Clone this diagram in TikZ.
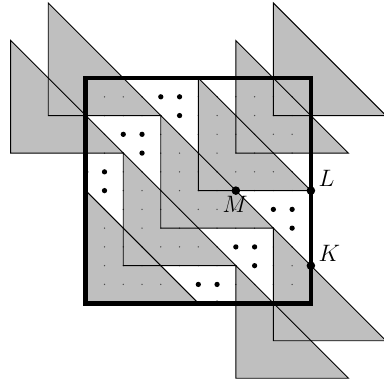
\documentclass[tikz,border=0pt]{standalone}
\usepackage{tikz}
\usetikzlibrary{positioning}

\begin{document}
\begin{tikzpicture}[
  x=0.4cm, y=0.4cm,
  shade/.style={fill=black!25},
  edge/.style={draw, line width=0.55pt, line join=miter},
  frame/.style={draw, line width=2.8pt, line join=miter},
  gridpt/.style={fill=black!70},
  freept/.style={fill=black},
  mark point/.style={fill=black},
  lbl/.style={inner sep=2.5pt, font=\Large}
]
\useasboundingbox (-4.57,-4.36) rectangle (15.85,16.16);
% triangles: right angle corner, legs of length 6
\foreach \c in {(-4,8),(-2,10),(0,0),(2,2),(4,4),(6,6),(8,8),(10,10),(8,-4),(10,-2)}
  \fill[shade] \c -- ++(0,6) -- ++(6,-6) -- cycle;
% lattice points
\foreach \i in {0,...,11}
  \foreach \j in {0,...,11}
    \fill[gridpt] (\i,\j) circle (0.45pt);
\foreach \p in {(4,11),(5,11),(5,10),(2,9),(3,9),(3,8),(1,7),(1,6),(0,7),
                (10,5),(11,5),(11,4),(8,3),(9,3),(9,2),(6,1),(7,1),(7,0)}
  \fill[freept] \p circle (1.6pt);
% outlines of the triangles
\foreach \c in {(-4,8),(-2,10),(0,0),(2,2),(4,4),(6,6),(8,8),(10,10),(8,-4),(10,-2)}
  \draw[edge] \c -- ++(0,6) -- ++(6,-6) -- cycle;
% the square
\draw[frame] (0,0) rectangle (12,12);
% marked points
\coordinate (M) at (8,6);
\coordinate (L) at (12,6);
\coordinate (K) at (12,2);
\fill[mark point] (M) circle (2.6pt);
\fill[mark point] (L) circle (2.6pt);
\fill[mark point] (K) circle (2.6pt);
\node[lbl, anchor=north, xshift=-0.5pt, yshift=-1pt] (lblM) at (M) {$M$};
\node[lbl, anchor=south west, xshift=2pt] (lblL) at (L) {$L$};
\node[lbl, anchor=south west, xshift=2pt] (lblK) at (K) {$K$};
\end{tikzpicture}
\end{document}
